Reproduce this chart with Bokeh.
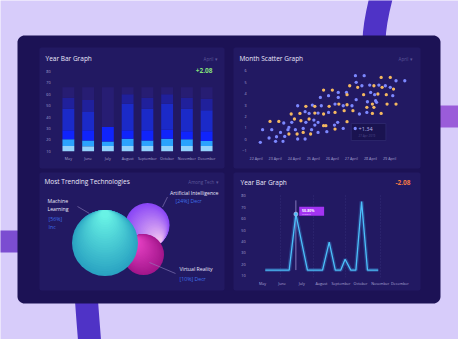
import numpy as np
from bokeh.plotting import figure
from bokeh.models import GridBox, Range1d, FactorRange, FixedTicker, Label
from bokeh.core.properties import value
from bokeh.embed import file_html
from bokeh.resources import INLINE

# ---------------- data ----------------
months = ["May", "June", "July", "August", "September", "October", "November", "December"]
bar_floor = [10, 10, 10, 10, 10, 10, 10, 10]
bar_pale_top = [14.7, 14.4, 14.7, 14.7, 14.7, 14.7, 14.7, 14.7]
bar_sky_top = [20.5, 19.6, 18.7, 21.1, 19.6, 21.1, 20.5, 19.0]
bar_bright_top = [28.4, 28.4, 31.3, 28.4, 28.4, 29.2, 27.5, 27.5]
bar_mid_top = [47.3, 44.4, 31.3, 51.7, 47.3, 51.7, 47.3, 45.9]
bar_deep_top = [57.0, 55.0, 31.3, 60.0, 57.0, 60.0, 57.0, 56.0]
bar_track_top = [66, 66, 66, 66, 66, 66, 66, 66]
bar_ticks = [10, 20, 30, 40, 50, 60, 70, 80]
bar_change = "+2.08"

scatter_days = [22, 23, 24, 25, 26, 27, 28, 29]
scatter_ticks = [-1, 0, 1, 2, 3, 4, 5, 6]
blue_day = [22.22, 22.34, 22.68, 22.82, 23.02, 23.07, 23.28, 23.41, 23.45, 23.50, 23.67, 23.72,
            23.87, 24.06, 24.18, 24.18, 24.47, 24.57, 24.57, 24.61, 24.78, 24.91, 24.95, 25.03,
            25.08, 25.25, 25.25, 25.25, 25.37, 25.42, 25.71, 25.80, 25.80, 26.11, 26.14, 26.28,
            26.31, 26.31, 26.57, 26.57, 26.74, 27.03, 27.21, 27.25, 27.25, 27.42, 27.55, 27.67,
            27.81, 27.84, 27.96, 28.01, 28.22, 28.27, 28.32, 28.44, 28.78, 29.04, 29.17, 29.34, 29.80]
blue_val = [-0.26, 0.85, 0.12, 0.85, -0.17, 0.23, 0.61, -0.17, 1.43, 0.26, 0.85, 1.05,
            1.49, 0.85, 0.03, 2.94, 0.96, 0.03, 2.42, 1.49, 2.27, 0.85, 3.00, 1.69,
            1.25, 2.30, 1.49, 0.61, 3.67, 2.94, 0.67, 3.82, 2.36, 1.25, 3.09, 1.49,
            4.11, 3.67, 2.94, 0.96, 4.11, 2.94, 5.57, 4.99, 3.47, 2.22, 4.69, 5.57,
            2.36, 3.29, 4.75, 4.11, 3.91, 3.38, 3.24, 4.75, 4.69, 4.55, 3.82, 5.13, 5.13]
orange_day = [22.73, 23.19, 23.72, 23.84, 24.01, 24.15, 24.30, 24.35, 24.47, 24.61, 24.78, 24.86,
              25.08, 25.08, 25.54, 25.54, 25.54, 25.66, 25.83, 26.00, 26.14, 26.14, 26.34, 26.62,
              26.77, 26.77, 26.77, 26.91, 27.08, 27.33, 27.64, 27.81, 28.10, 28.10, 28.18, 28.18,
              28.39, 28.56, 28.56, 28.61, 28.83, 28.87, 29.04, 29.21, 29.34]
orange_val = [1.57, 1.57, 0.47, 2.22, 1.78, 0.47, 2.27, 1.63, 0.61, 2.89, 1.78, 0.47,
              2.89, 2.30, 4.31, 2.22, 1.20, 1.20, 2.89, 4.31, 2.36, 0.90, 3.09, 2.51,
              3.03, 1.55, 3.91, 4.69, 2.51, 4.55, 3.91, 2.80, 3.09, 2.27, 2.80, 4.69,
              3.97, 5.42, 2.27, 4.55, 3.91, 3.09, 5.42, 4.40, 3.09]
scatter_tip_value = "+1.34"
scatter_tip_date = "27 Apr 2019"

tech_names = ["Machine Learning", "Artificial Intelligence", "Virtual Reality"]
tech_share = [56, 24, 10]
tech_trend = ["Inc", "Decr", "Decr"]

line_month = [0.14, 1.36, 1.70, 2.29, 3.06, 3.40, 3.71, 3.99, 4.21, 4.50, 4.76, 5.05, 5.35, 5.90]
line_value = [15, 15, 64, 15, 15, 39.5, 15, 15, 24.5, 15, 15, 75, 15, 15]
line_change = "-2.08"
line_tip = "50-80%"

# ---------------- style ----------------
FONT = "Open Sans"
PAGE_BG = "#d7ccfa"
PANEL = "#1c1255"
CARD = "#221962"
TXT = "#ebe8fb"
TICK = "#aaa6d4"
DIM = "#5d5799"
PCT = "#3f6fe8"


def hex2rgb(h):
    return np.array([int(h[i:i + 2], 16) for i in (1, 3, 5)], dtype=float)


def rgb2hex(c):
    return "#%02x%02x%02x" % tuple(int(round(v)) for v in c)


def card(w, h, xr, yr, l, r, t, b):
    p = figure(width=w, height=h, x_range=xr, y_range=yr, output_backend="svg",
               toolbar_location=None, min_border_left=l, min_border_right=r,
               min_border_top=t, min_border_bottom=b, background_fill_alpha=0,
               border_fill_alpha=0, outline_line_color=None)
    p.grid.visible = False
    for ax in p.axis:
        ax.axis_line_color = None
        ax.major_tick_line_color = None
        ax.minor_tick_line_color = None
        ax.major_tick_out = 0
        ax.major_tick_in = 0
        ax.major_label_text_font = FONT
        ax.major_label_text_font_size = "3.7px"
        ax.major_label_text_color = TICK
    return p


def lbl(p, x, y, text, size, color, align="left", style="normal"):
    p.add_layout(Label(x=x, y=y, x_units="canvas", y_units="canvas", text=text,
                       text_font=FONT, text_font_size=f"{size}px", text_color=color,
                       text_align=align, text_baseline="middle", text_font_style=style))


# ---------------- background (page coordinates) ----------------
bg = figure(width=458, height=339, x_range=Range1d(8, 466), y_range=Range1d(347, 8),
            output_backend="svg", toolbar_location=None, x_axis_type=None, y_axis_type=None,
            min_border=0, background_fill_color=PAGE_BG, border_fill_color=PAGE_BG,
            outline_line_color=None)


def btxt(x, y, text, size, color, align="left", style="normal"):
    bg.text(x=[x], y=[y], text=[text], text_font=value(FONT), text_font_size=value(f"{size}px"),
            text_color=color, text_align=align, text_baseline="middle", text_font_style=style)


def rrect(x0, y0, x1, y1, r, n=10):
    xs, ys = [], []
    for cx, cy, a0 in [(x1 - r, y0 + r, -90), (x1 - r, y1 - r, 0), (x0 + r, y1 - r, 90), (x0 + r, y0 + r, 180)]:
        for t in np.linspace(a0, a0 + 90, n):
            xs.append(cx + r * np.cos(np.radians(t)))
            ys.append(cy + r * np.sin(np.radians(t)))
    return xs, ys


bg.bezier(x0=391, y0=-4, x1=381.5, y1=48, cx0=386, cy0=14, cx1=382, cy1=30,
          line_width=23, line_color="#4f33c6")
bg.bezier(x0=93.5, y0=300, x1=98, y1=362, cx0=95, cy0=325, cx1=97, cy1=345,
          line_width=23, line_color="#4f33c6")
bg.quad(left=0, right=32, top=238, bottom=260, fill_color="#7b4dd1", line_color=None)
bg.quad(left=440, right=474, top=113, bottom=135, fill_color="#9a5cd9", line_color=None)

px, py = rrect(25, 43, 448, 311, 7)
bg.patch(px, py, fill_color=PANEL, line_color=None)
for x0, y0, x1, y1 in [(47, 55, 232, 176), (241, 55, 428, 176), (47, 180, 232, 298), (241, 180, 428, 298)]:
    cx, cy = rrect(x0, y0, x1, y1, 2, 4)
    bg.patch(cx, cy, fill_color=CARD, line_color=None)

# card headers
btxt(53, 66, "Year Bar Graph", 6.5, TXT)
btxt(225, 66, "April \u25be", 4.5, DIM, "right")
btxt(220, 78, bar_change, 6.5, "#86e07c", "right", "bold")
btxt(247, 66, "Month Scatter Graph", 6.5, TXT)
btxt(420, 66, "April \u25be", 4.5, DIM, "right")
btxt(52, 189, "Most Trending Technologies", 6.5, TXT)
btxt(226, 189.5, "Among Tech \u25be", 4.5, DIM, "right")
btxt(248, 190, "Year Bar Graph", 6.5, TXT)
btxt(418, 190, line_change, 6.5, "#f27a45", "right", "bold")

# ---------------- bottom-left: bubbles (drawn on the page layer) ----------------
bubble_x = [112.5, 155.0, 151.0]
bubble_y = [250.5, 232.5, 262.0]
bubble_r = [33.0, 22.0, 20.5]
bubble_dark = ["#2aa3c2", "#8a47f6", "#a3168c"]
bubble_light = ["#68f2e5", "#ecbdf1", "#ee46ca"]
bubble_dir = [(0.0, -1.0), (0.6, 0.8), (-0.6, -0.8)]


def bubble(p, cx, cy, r, cd, cl, d, n=26):
    a, b = hex2rgb(cd), hex2rgb(cl)
    for i in range(n):
        t = i / (n - 1)
        ri = r * (1 - 0.88 * t)
        p.circle(x=[cx + d[0] * (r - ri)], y=[cy + d[1] * (r - ri)], radius=ri,
                 fill_color=rgb2hex(a + (b - a) * t), line_color=None)


for k in (1, 2, 0):
    bubble(bg, bubble_x[k], bubble_y[k], bubble_r[k], bubble_dark[k], bubble_light[k], bubble_dir[k])

bg.segment(x0=[85, 175, 157], y0=[214, 204.5, 270], x1=[97, 170, 183], y1=[221, 214.5, 281],
           line_color="#8f82bd", line_width=0.6)
ml = tech_names[0].split(" ")
btxt(55, 208, ml[0], 5.2, TXT)
btxt(55, 216.5, ml[1], 5.2, TXT)
btxt(56, 226, f"[{tech_share[0]}%]", 5.2, PCT)
btxt(56, 234, tech_trend[0], 5.2, PCT)
btxt(226, 200, tech_names[1], 5.2, TXT, "right")
btxt(183, 208.5, f"[{tech_share[1]}%] {tech_trend[1]}", 5.2, PCT)
btxt(187, 276, tech_names[2], 5.2, TXT)
btxt(187, 286, f"[{tech_share[2]}%] {tech_trend[2]}", 5.2, PCT)

# ---------------- top-left: stacked bars ----------------
tl = card(185, 121, FactorRange(*months), Range1d(9, 80.75), 19, 8, 23, 16)
segments = [(bar_floor, bar_pale_top, "#94d2fb"), (bar_pale_top, bar_sky_top, "#2aa2fd"),
            (bar_sky_top, bar_bright_top, "#1024fb"), (bar_bright_top, bar_mid_top, "#1b2ac8"),
            (bar_mid_top, bar_deep_top, "#20209b"), (bar_deep_top, bar_track_top, "#271d73")]
for bot, top, col in segments:
    tl.vbar(x=months, bottom=bot, top=top, width=0.6, fill_color=col, line_color=None)
tl.yaxis.ticker = FixedTicker(ticks=bar_ticks)
tl.yaxis.major_label_standoff = 8
tl.xaxis.major_label_standoff = 3

# ---------------- top-right: scatter ----------------
tr = card(187, 121, Range1d(21.705, 30.205), Range1d(-1.149, 6.025), 15, 8, 23, 16)
tr.xaxis.ticker = FixedTicker(ticks=scatter_days)
tr.xaxis.major_label_overrides = {d: f"{d} April" for d in scatter_days}
tr.yaxis.ticker = FixedTicker(ticks=scatter_ticks)
tr.yaxis.major_label_standoff = 4
tr.xaxis.major_label_standoff = 3
tr.scatter(x=blue_day, y=blue_val, size=3.3, fill_color="#7c88ff", line_color=None)
tr.scatter(x=orange_day, y=orange_val, size=3.3, fill_color="#f4b860", line_color=None)
tr.quad(left=26.99, right=28.81, top=1.388, bottom=-0.099, fill_color="#1a1350",
        line_color="#2e2a6e", line_width=0.8)
tr.scatter(x=[27.2], y=[0.95], size=3.3, fill_color="#7c88ff", line_color=None)
lbl(tr, 125, 81, scatter_tip_value, 5.5, "#b7b3e6")
lbl(tr, 125, 88, scatter_tip_date, 3, "#4f4a8a")

# ---------------- bottom-right: line ----------------
br = card(187, 118, Range1d(-0.612, 7.645), Range1d(8.51, 81.13), 17, 8, 22, 13)
br.xaxis.ticker = FixedTicker(ticks=list(range(len(months))))
br.xaxis.major_label_overrides = {i: m for i, m in enumerate(months)}
br.yaxis.ticker = FixedTicker(ticks=bar_ticks)
br.yaxis.major_label_standoff = 5
br.xaxis.major_label_standoff = 3
br.xgrid.visible = True
br.xgrid.ticker = FixedTicker(ticks=[0.92, 2.58, 4.23, 6.0])
br.xgrid.grid_line_color = "#3b3381"
br.xgrid.grid_line_dash = "1 2"
br.xgrid.grid_line_width = 0.7
br.segment(x0=[1.70], y0=[15], x1=[1.70], y1=[76], line_color="#9c8fd0", line_width=0.8)
br.line(x=line_month, y=line_value, line_width=4, line_color="#3fa9f5", line_alpha=0.25)
br.line(x=line_month, y=line_value, line_width=1.3, line_color="#4cc0fa")
br.scatter(x=[1.70], y=[64], size=4, fill_color="#4cc0fa", line_color="#c9c2ef", line_width=0.6)
br.quad(left=1.87, right=3.14, top=70.4, bottom=62.5, fill_color="#a334f2", line_color=None)
lbl(br, 68.5, 37.5, line_tip, 3.5, "#ffffff", style="bold")
lbl(br, 68.5, 41.5, "Growth", 2.5, "#e5c8ff")

p = GridBox(children=[(bg, 0, 0, 5, 5), (tl, 1, 1), (tr, 1, 3), (br, 3, 3)],
            rows=["47px", "121px", "4px", "118px", "49px"],
            cols=["39px", "185px", "9px", "187px", "38px"], spacing=0)

open("out.html", "w").write(file_html(p, INLINE))
